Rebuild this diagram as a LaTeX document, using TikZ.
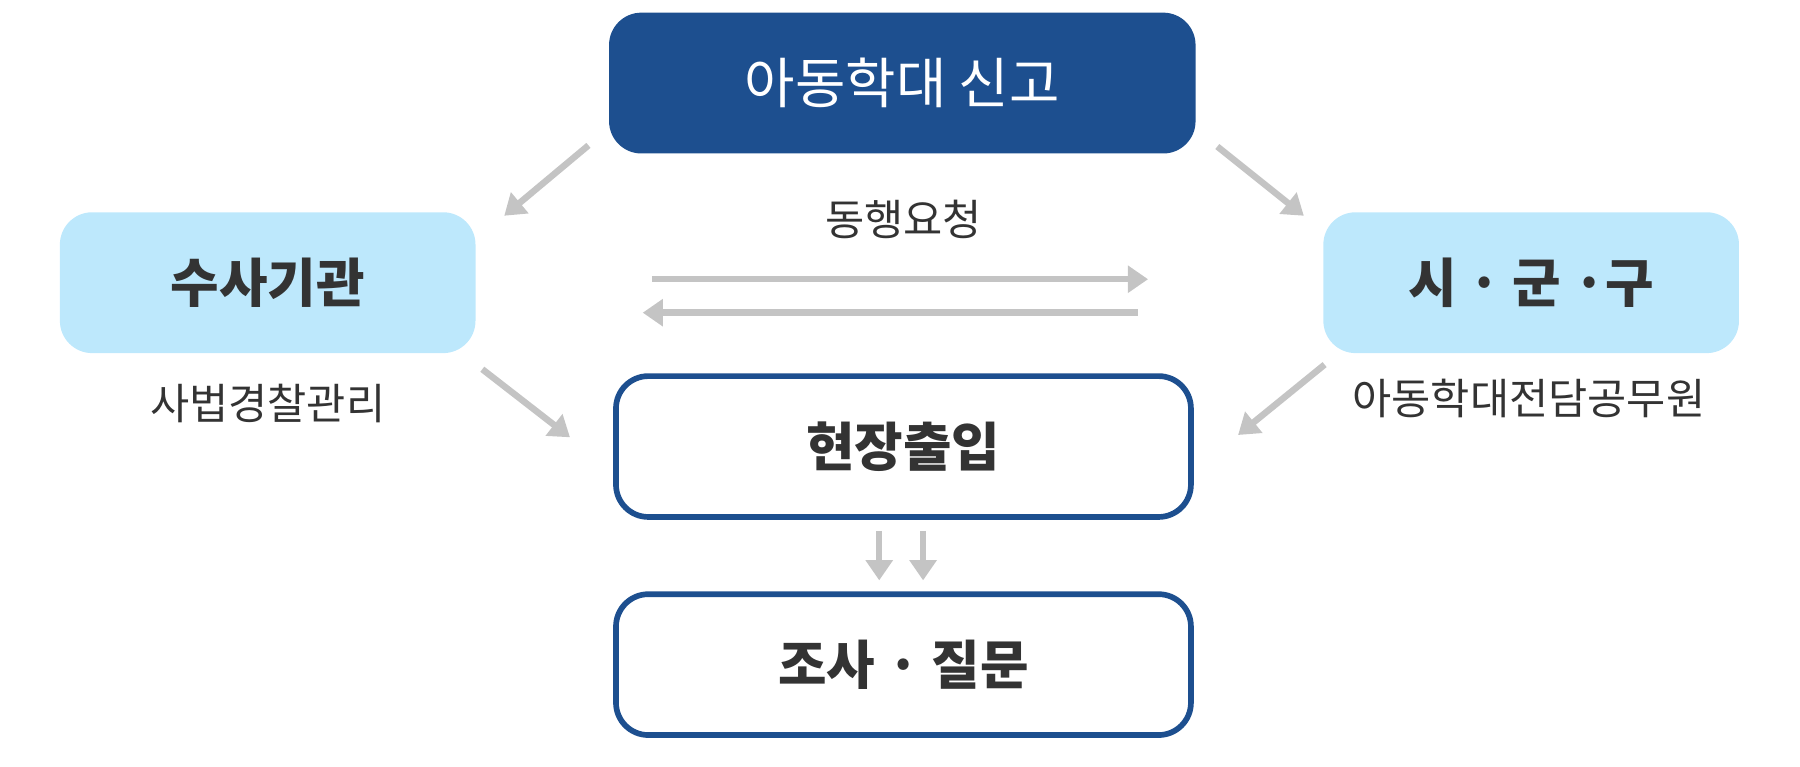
\documentclass[tikz,border=0pt]{standalone}
\usepackage{fontspec}
\newfontfamily\kr{Noto Sans CJK KR}
\usetikzlibrary{arrows.meta,positioning}
\definecolor{navy}{HTML}{1D4F8F}
\definecolor{sky}{HTML}{BDE8FC}
\definecolor{arrgray}{HTML}{C4C4C4}
\definecolor{txt}{HTML}{333333}
\begin{document}
\begin{tikzpicture}[x=0.01cm,y=-0.01cm,font=\kr,
    box/.style={rounded corners=0.28cm,minimum width=#1,minimum height=1.22cm,inner sep=0pt},
    top/.style={box=5.08cm,fill=navy,text=white,font=\kr\fontsize{13.5}{16}\selectfont},
    side/.style={box=3.6cm,fill=sky,text=txt,font=\kr\bfseries\fontsize{13}{16}\selectfont},
    stage/.style={box=4.98cm,draw=navy,line width=1.4pt,fill=white,text=txt,font=\kr\bfseries\fontsize{13}{16}\selectfont},
    note/.style={text=txt,font=\kr\fontsize{10.5}{13}\selectfont},
    arr/.style={draw=arrgray,line width=1.6pt,-{Triangle[length=5pt,width=6.5pt]}}]
\useasboundingbox (0,0) rectangle (1560,664);

\node[top] (report) at (782,72) {아동학대 신고};
\node[side] (police) at (232,245) {수사기관};
\node[side] (city) at (1327,245) {시 · 군 ·구};
\node[stage] (site) at (783,387) {현장출입};
\node[stage] (inquiry) at (783,576) {조사 · 질문};

\node[note] (policeN) at (232,350) {사법경찰관리};
\node[note] (cityN) at (1325,345) {아동학대전담공무원};
\node[note] (req) at (783,190) {동행요청};

% free ends
\coordinate (a1) at (510,126); \coordinate (a2) at (437,187);
\coordinate (b1) at (1055,127); \coordinate (b2) at (1130,187);
\coordinate (c1) at (418,320); \coordinate (c2) at (494,379);
\coordinate (d1) at (1148,316); \coordinate (d2) at (1073,377);
\coordinate (e1) at (565,242); \coordinate (e2) at (995,242);
\coordinate (f1) at (986,271); \coordinate (f2) at (557,271);
\coordinate (g1) at (762,460); \coordinate (g2) at (762,503);
\coordinate (h1) at (800,460); \coordinate (h2) at (800,503);

\draw[arr] (a1) -- (a2);
\draw[arr] (b1) -- (b2);
\draw[arr] (c1) -- (c2);
\draw[arr] (d1) -- (d2);
\draw[arr] (e1) -- (e2);
\draw[arr] (f1) -- (f2);
\draw[arr] (g1) -- (g2);
\draw[arr] (h1) -- (h2);
\end{tikzpicture}
\end{document}
